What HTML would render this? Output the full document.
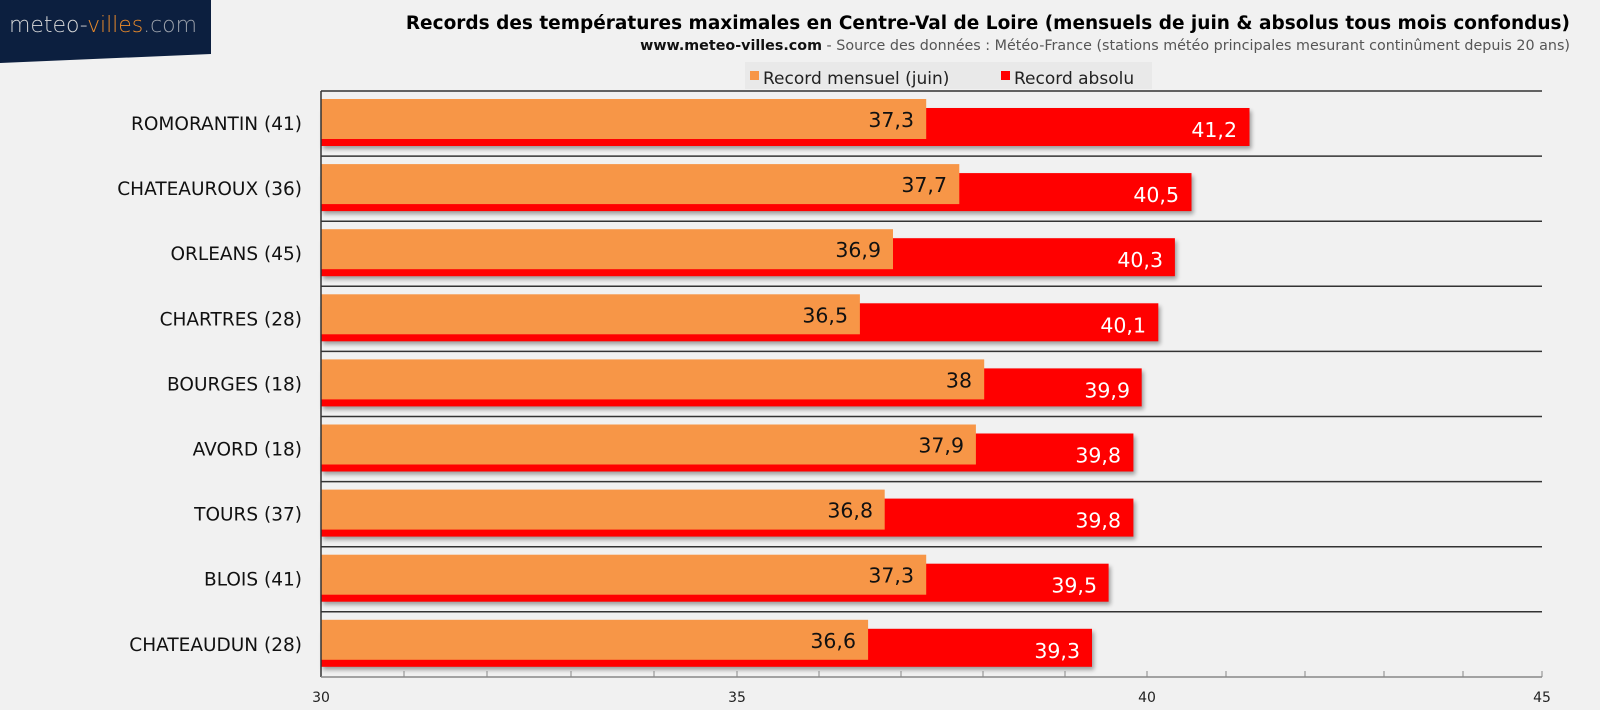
<!DOCTYPE html>
<html><head><meta charset="utf-8"><style>
body{margin:0;background:#f1f1f1;}
svg{display:block;font-family:"DejaVu Sans","Liberation Sans",sans-serif;}
</style></head><body>
<svg width="1600" height="710" xmlns="http://www.w3.org/2000/svg">
<defs><filter id="sh" x="-5%" y="-30%" width="115%" height="180%"><feGaussianBlur stdDeviation="2"/></filter></defs>
<rect width="1600" height="710" fill="#f1f1f1"/>
<polygon points="0,0 211,0 211,54 0,63" fill="#0c1f3f"/>
<text x="9" y="32" font-size="22" font-weight="300" fill="#d8d8d8" textLength="188">meteo-<tspan fill="#e8892a">villes</tspan><tspan fill="#9aa0aa">.com</tspan></text>
<text x="1570" y="29" text-anchor="end" font-size="18.5" font-weight="bold" fill="#000">Records des températures maximales en Centre-Val de Loire (mensuels de juin &amp; absolus tous mois confondus)</text>
<text x="1570" y="50" text-anchor="end" font-size="14.3" fill="#555"><tspan font-weight="bold" fill="#111">www.meteo-villes.com</tspan> - Source des données : Météo-France (stations météo principales mesurant continûment depuis 20 ans)</text>
<rect x="745" y="62" width="407" height="27" fill="#e9e9e9"/>
<rect x="750" y="71" width="9" height="9" fill="#f79647"/>
<text x="763" y="84" font-size="17" fill="#222">Record mensuel (juin)</text>
<rect x="1001" y="71" width="9" height="9" fill="#ff0000"/>
<text x="1014" y="84" font-size="17" fill="#222">Record absolu</text>

<g font-size="20.5">
<g transform="translate(0,91)">
<line x1="321" y1="0" x2="1542" y2="0" stroke="#333" stroke-width="1.5"/>
<rect x="323" y="20" width="928.5" height="38" fill="#000" opacity="0.35" filter="url(#sh)"/>
<rect x="321" y="17" width="928.5" height="38" fill="#f00"/>
<rect x="321" y="8" width="605.2" height="40" fill="#f79647"/>
<text x="914" y="36" text-anchor="end" fill="#111">37,3</text>
<text x="1237" y="46" text-anchor="end" fill="#fff">41,2</text>
<text x="302" y="39" text-anchor="end" font-size="18.5" fill="#111">ROMORANTIN (41)</text>
</g>
<g transform="translate(0,156.1)">
<line x1="321" y1="0" x2="1542" y2="0" stroke="#333" stroke-width="1.5"/>
<rect x="323" y="20" width="870.5" height="38" fill="#000" opacity="0.35" filter="url(#sh)"/>
<rect x="321" y="17" width="870.5" height="38" fill="#f00"/>
<rect x="321" y="8" width="638.3" height="40" fill="#f79647"/>
<text x="947" y="36" text-anchor="end" fill="#111">37,7</text>
<text x="1179" y="46" text-anchor="end" fill="#fff">40,5</text>
<text x="302" y="39" text-anchor="end" font-size="18.5" fill="#111">CHATEAUROUX (36)</text>
</g>
<g transform="translate(0,221.2)">
<line x1="321" y1="0" x2="1542" y2="0" stroke="#333" stroke-width="1.5"/>
<rect x="323" y="20" width="853.9" height="38" fill="#000" opacity="0.35" filter="url(#sh)"/>
<rect x="321" y="17" width="853.9" height="38" fill="#f00"/>
<rect x="321" y="8" width="572" height="40" fill="#f79647"/>
<text x="881" y="36" text-anchor="end" fill="#111">36,9</text>
<text x="1163" y="46" text-anchor="end" fill="#fff">40,3</text>
<text x="302" y="39" text-anchor="end" font-size="18.5" fill="#111">ORLEANS (45)</text>
</g>
<g transform="translate(0,286.3)">
<line x1="321" y1="0" x2="1542" y2="0" stroke="#333" stroke-width="1.5"/>
<rect x="323" y="20" width="837.3" height="38" fill="#000" opacity="0.35" filter="url(#sh)"/>
<rect x="321" y="17" width="837.3" height="38" fill="#f00"/>
<rect x="321" y="8" width="538.9" height="40" fill="#f79647"/>
<text x="848" y="36" text-anchor="end" fill="#111">36,5</text>
<text x="1146" y="46" text-anchor="end" fill="#fff">40,1</text>
<text x="302" y="39" text-anchor="end" font-size="18.5" fill="#111">CHARTRES (28)</text>
</g>
<g transform="translate(0,351.4)">
<line x1="321" y1="0" x2="1542" y2="0" stroke="#333" stroke-width="1.5"/>
<rect x="323" y="20" width="820.7" height="38" fill="#000" opacity="0.35" filter="url(#sh)"/>
<rect x="321" y="17" width="820.7" height="38" fill="#f00"/>
<rect x="321" y="8" width="663.2" height="40" fill="#f79647"/>
<text x="972" y="36" text-anchor="end" fill="#111">38</text>
<text x="1130" y="46" text-anchor="end" fill="#fff">39,9</text>
<text x="302" y="39" text-anchor="end" font-size="18.5" fill="#111">BOURGES (18)</text>
</g>
<g transform="translate(0,416.5)">
<line x1="321" y1="0" x2="1542" y2="0" stroke="#333" stroke-width="1.5"/>
<rect x="323" y="20" width="812.4" height="38" fill="#000" opacity="0.35" filter="url(#sh)"/>
<rect x="321" y="17" width="812.4" height="38" fill="#f00"/>
<rect x="321" y="8" width="654.9" height="40" fill="#f79647"/>
<text x="964" y="36" text-anchor="end" fill="#111">37,9</text>
<text x="1121" y="46" text-anchor="end" fill="#fff">39,8</text>
<text x="302" y="39" text-anchor="end" font-size="18.5" fill="#111">AVORD (18)</text>
</g>
<g transform="translate(0,481.6)">
<line x1="321" y1="0" x2="1542" y2="0" stroke="#333" stroke-width="1.5"/>
<rect x="323" y="20" width="812.4" height="38" fill="#000" opacity="0.35" filter="url(#sh)"/>
<rect x="321" y="17" width="812.4" height="38" fill="#f00"/>
<rect x="321" y="8" width="563.7" height="40" fill="#f79647"/>
<text x="873" y="36" text-anchor="end" fill="#111">36,8</text>
<text x="1121" y="46" text-anchor="end" fill="#fff">39,8</text>
<text x="302" y="39" text-anchor="end" font-size="18.5" fill="#111">TOURS (37)</text>
</g>
<g transform="translate(0,546.7)">
<line x1="321" y1="0" x2="1542" y2="0" stroke="#333" stroke-width="1.5"/>
<rect x="323" y="20" width="787.6" height="38" fill="#000" opacity="0.35" filter="url(#sh)"/>
<rect x="321" y="17" width="787.6" height="38" fill="#f00"/>
<rect x="321" y="8" width="605.2" height="40" fill="#f79647"/>
<text x="914" y="36" text-anchor="end" fill="#111">37,3</text>
<text x="1097" y="46" text-anchor="end" fill="#fff">39,5</text>
<text x="302" y="39" text-anchor="end" font-size="18.5" fill="#111">BLOIS (41)</text>
</g>
<g transform="translate(0,611.8)">
<line x1="321" y1="0" x2="1542" y2="0" stroke="#333" stroke-width="1.5"/>
<rect x="323" y="20" width="771" height="38" fill="#000" opacity="0.35" filter="url(#sh)"/>
<rect x="321" y="17" width="771" height="38" fill="#f00"/>
<rect x="321" y="8" width="547.1" height="40" fill="#f79647"/>
<text x="856" y="36" text-anchor="end" fill="#111">36,6</text>
<text x="1080" y="46" text-anchor="end" fill="#fff">39,3</text>
<text x="302" y="39" text-anchor="end" font-size="18.5" fill="#111">CHATEAUDUN (28)</text>
</g>
</g>

<line x1="321" y1="91" x2="321" y2="677" stroke="#333" stroke-width="1.5"/>
<line x1="321" y1="677" x2="1542" y2="677" stroke="#888" stroke-width="1.5"/>
<g stroke="#888" stroke-width="1">
<line x1="404" y1="671" x2="404" y2="677"/><line x1="487" y1="671" x2="487" y2="677"/><line x1="571" y1="671" x2="571" y2="677"/><line x1="654" y1="671" x2="654" y2="677"/><line x1="737" y1="671" x2="737" y2="677"/>
<line x1="819" y1="671" x2="819" y2="677"/><line x1="901" y1="671" x2="901" y2="677"/><line x1="983" y1="671" x2="983" y2="677"/><line x1="1065" y1="671" x2="1065" y2="677"/><line x1="1147" y1="671" x2="1147" y2="677"/>
<line x1="1226" y1="671" x2="1226" y2="677"/><line x1="1305" y1="671" x2="1305" y2="677"/><line x1="1384" y1="671" x2="1384" y2="677"/><line x1="1463" y1="671" x2="1463" y2="677"/><line x1="1542" y1="671" x2="1542" y2="677"/>
</g>
<g font-size="14" fill="#222" text-anchor="middle">
<text x="321" y="702">30</text><text x="737" y="702">35</text><text x="1147" y="702">40</text><text x="1542" y="702">45</text>
</g>
</svg>
</body></html>
